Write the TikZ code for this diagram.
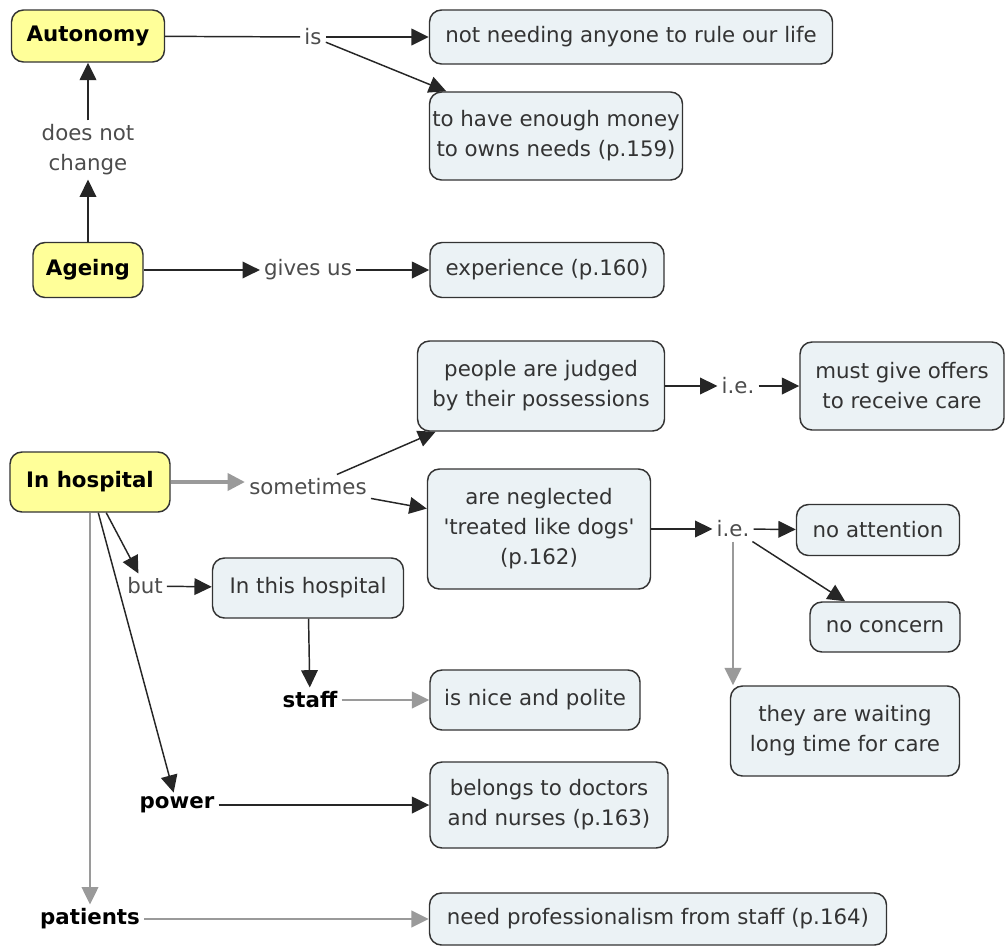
\documentclass[tikz,border=0pt]{standalone}
\usepackage{fontspec}
\setmainfont{DejaVu Sans}
\usetikzlibrary{arrows.meta}

\definecolor{conceptfill}{HTML}{FFFF99}
\definecolor{leaffill}{HTML}{EBF2F5}
\definecolor{edgegray}{HTML}{9A9A9A}
\definecolor{textgray}{HTML}{333333}

\tikzset{
  sz/.style 2 args={minimum width=#1*0.75pt, minimum height=#2*0.75pt},
  concept/.style={draw=black!80, line width=1.1pt, rounded corners=9pt, fill=conceptfill,
    font=\bfseries, align=center, inner sep=2pt},
  leaf/.style={draw=black!80, line width=1.1pt, rounded corners=9pt, fill=leaffill,
    text=textgray, align=center, inner sep=2pt},
  link/.style={text=black!70, align=center, inner sep=3pt},
  linkb/.style={font=\bfseries, inner sep=3pt},
  conn/.style={draw=black!85, line width=1.1pt},
  gconn/.style={draw=edgegray, line width=1.3pt},
  arr/.style={-{Triangle[length=13pt,width=12.5pt]}}
}

\begin{document}
\fontsize{16}{22.5}\selectfont
\begin{tikzpicture}[x=0.75pt, y=-0.75pt]
  \useasboundingbox (0,0) rectangle (1006,946);

  % concepts and linking phrases
  \node[concept, sz={153}{52}] (autonomy) at (88,36) {Autonomy};
  \node[link] (is) at (313,37) {is};
  \node[leaf, sz={403}{54}] (noneed) at (631,37) {not needing anyone to rule our life};
  \node[leaf, sz={253}{88}] (money) at (556,136) {to have enough money\\to owns needs (p.159)};
  \node[link] (notchange) at (88,150) {does not\\change};
  \node[concept, sz={110}{55}] (ageing) at (88,270) {Ageing};
  \node[link] (gives) at (308,270) {gives us};
  \node[leaf, sz={234}{55}] (exper) at (547,270) {experience (p.160)};

  \node[leaf, sz={247}{90}] (judged) at (541,386) {people are judged\\by their possessions};
  \node[link] (ie1) at (738,386) {i.e.};
  \node[leaf, sz={204}{88}] (offers) at (902,386) {must give offers\\to receive care};
  \node[concept, sz={160}{60}] (hosp) at (90,482) {In hospital};
  \node[link] (sometimes) at (308,487) {sometimes};
  \node[leaf, sz={223}{120}] (neglect) at (539,529) {are neglected\\\textquotesingle treated like dogs\textquotesingle\\(p.162)};
  \node[link] (ie2) at (733,529) {i.e.};
  \node[leaf, sz={163}{51}] (noatt) at (878,530) {no attention};
  \node[leaf, sz={150}{50}] (noconc) at (885,627) {no concern};
  \node[leaf, sz={229}{90}] (waiting) at (845,731) {they are waiting\\long time for care};

  \node[link] (but) at (145,586) {but};
  \node[leaf, sz={191}{60}] (thishosp) at (308,588) {In this hospital};
  \node[linkb] (staff) at (310,700) {staff};
  \node[leaf, sz={210}{60}] (nice) at (535,700) {is nice and polite};
  \node[linkb] (power) at (177,805) {power};
  \node[leaf, sz={238}{86}] (belongs) at (549,805) {belongs to doctors\\and nurses (p.163)};
  \node[linkb] (patients) at (90,919) {patients};
  \node[leaf, sz={457}{52}] (profess) at (658,919) {need professionalism from staff (p.164)};

  % connectors
  \draw[conn] (autonomy) -- (is);
  \draw[conn, arr] (is) -- (noneed);
  \draw[conn, arr] (is) -- (money);
  \draw[conn, arr] (ageing) -- (notchange);
  \draw[conn, arr] (notchange) -- (autonomy);
  \draw[conn, arr] (ageing) -- (gives);
  \draw[conn, arr] (gives) -- (exper);

  \draw[gconn, line width=3.5pt, arr] (hosp.east) -- (hosp.east -| sometimes.west);
  \draw[conn, arr] (sometimes) -- (judged);
  \draw[conn, arr] (sometimes) -- (neglect);
  \draw[conn, arr] (judged) -- (ie1);
  \draw[conn, arr] (ie1) -- (offers);
  \draw[conn, arr] (neglect) -- (ie2);
  \draw[conn, arr] (ie2) -- (noatt);
  \draw[conn, arr] (ie2) -- (noconc);
  \draw[gconn, arr] (ie2.south) -- (ie2.south |- waiting.north);

  \draw[conn, arr] (hosp) -- (but);
  \draw[conn, arr] (but) -- (thishosp);
  \draw[conn, arr] (thishosp) -- (staff);
  \draw[gconn, arr] (staff) -- (nice);
  \draw[conn, arr] (hosp) -- (power);
  \draw[conn, arr] (power) -- (belongs);
  \draw[gconn, arr] (hosp) -- (patients);
  \draw[gconn, arr] (patients) -- (profess);
\end{tikzpicture}
\end{document}
